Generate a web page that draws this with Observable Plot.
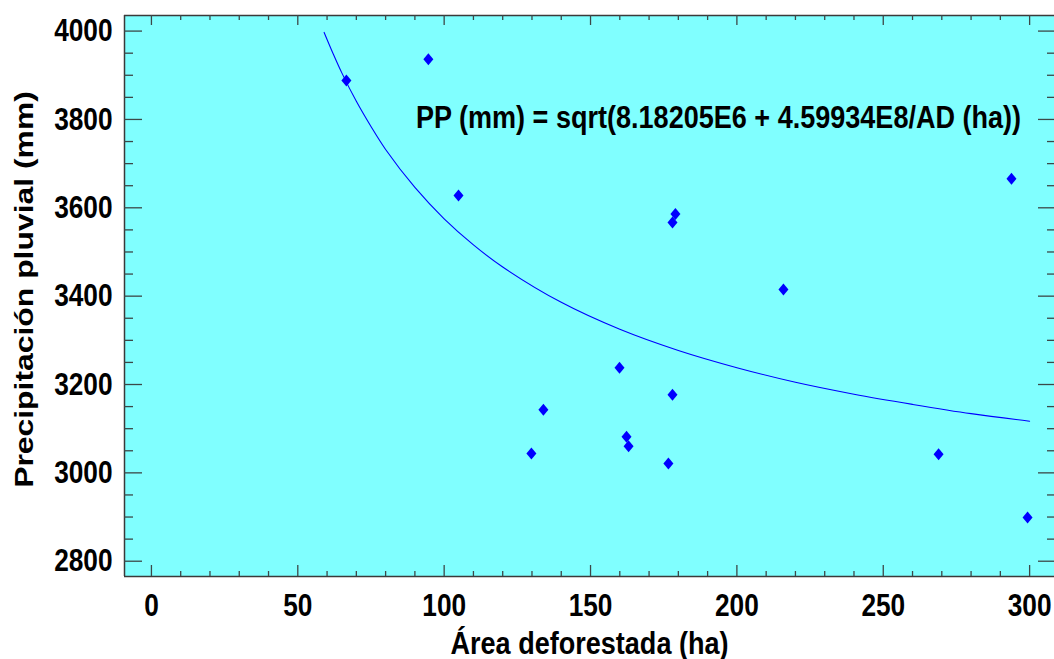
<!DOCTYPE html>
<html>
<head>
<meta charset="utf-8">
<script src="https://cdn.jsdelivr.net/npm/d3@7"></script>
<script src="https://cdn.jsdelivr.net/npm/@observablehq/plot@0.6"></script>
<style>
  html, body { margin: 0; padding: 0; background: #ffffff; }
  #chart svg { display: block; }
</style>
</head>
<body>
<div id="chart"></div>
<script>
// Observed data points: deforested area (ha) vs. rainfall (mm)
const areaHa   = [66.6, 94.6, 104.9, 179.0, 178.0, 215.9, 293.8, 159.9, 178.0, 133.9, 162.3, 163.0, 129.8, 176.6, 268.9, 299.3];
const precipMm = [3888, 3936, 3628, 3586, 3567, 3415, 3666, 3238, 3177, 3143, 3082, 3060, 3044, 3021, 3042, 2899];

// Fitted curve, values
const fitAreaHa   = [59, 62, 65, 70, 75, 80, 90, 100, 110, 120, 140, 160, 180, 200, 220, 240, 260, 280, 300];
const fitPrecipMm = [3997, 3950, 3906, 3841, 3784, 3732, 3646, 3575, 3516, 3466, 3386, 3325, 3277, 3238, 3205, 3178, 3155, 3134, 3117];

// Tick labels
const xTickLabels = [0, 50, 100, 150, 200, 250, 300];
const yTickLabels = [2800, 3000, 3200, 3400, 3600, 3800, 4000];

const equationText = "PP (mm) = sqrt(8.18205E6 + 4.59934E8/AD (ha))";
const xTitle = "Área deforestada (ha)";
const yTitle = "Precipitación pluvial (mm)";

const W = 1054, H = 659;
const mL = 124, mR = 0, mT = 15, mB = 83;
const frameW = W - mL - mR, frameH = H - mT - mB;
const xDomain = [-9.2, 308.5];
const yDomain = [2765.4, 4035.3];

const xMinor = d3.range(0, 301, 10).filter(v => v % 50 !== 0);
const yMinor = d3.range(2800, 4001, 50).filter(v => v % 200 !== 0);

const sans = "'Liberation Sans', Arial, Helvetica, sans-serif";
const tickColor = "#3c4848";
const frameColor = "#3a3a3a";

const diamondSymbol = {
  draw(ctx) {
    ctx.moveTo(0, -6);
    ctx.lineTo(5, 0);
    ctx.lineTo(0, 6);
    ctx.lineTo(-5, 0);
    ctx.closePath();
  }
};

const points = areaHa.map((x, i) => ({x, y: precipMm[i]}));
const fit = fitAreaHa.map((x, i) => ({x, y: fitPrecipMm[i]}));

const textStyle = {fontFamily: sans, fontSize: 32, fontWeight: "bold", fill: "#000"};

const plot = Plot.plot({
  width: W,
  height: H,
  marginLeft: mL,
  marginRight: mR,
  marginTop: mT,
  marginBottom: mB,
  style: {fontFamily: sans, fontSize: "32px", fontWeight: "bold", background: "#ffffff", color: "#000000"},
  x: {domain: xDomain},
  y: {domain: yDomain},
  marks: [
    Plot.frame({fill: "#80ffff", stroke: null}),
    // frame edges
    Plot.ruleX([xDomain[0]], {stroke: frameColor, strokeWidth: 1.5}),
    Plot.ruleY([yDomain[0]], {stroke: frameColor, strokeWidth: 1.5}),
    Plot.ruleY([yDomain[1]], {stroke: frameColor, strokeWidth: 1.5}),
    // bottom ticks (inward)
    Plot.tickX(xTickLabels, {x: d => d, insetTop: frameH - 11, stroke: tickColor, strokeWidth: 1.3}),
    Plot.tickX(xMinor, {x: d => d, insetTop: frameH - 5, stroke: tickColor, strokeWidth: 1.3}),
    // top ticks (inward)
    Plot.tickX(xTickLabels, {x: d => d, insetBottom: frameH - 10, stroke: tickColor, strokeWidth: 1.3}),
    Plot.tickX(xMinor, {x: d => d, insetBottom: frameH - 5, stroke: tickColor, strokeWidth: 1.3}),
    // left ticks (inward)
    Plot.tickY(yTickLabels, {y: d => d, insetRight: frameW - 18, stroke: tickColor, strokeWidth: 1.3}),
    Plot.tickY(yMinor, {y: d => d, insetRight: frameW - 9, stroke: tickColor, strokeWidth: 1.3}),
    // right ticks (inward)
    Plot.tickY(yTickLabels, {y: d => d, insetLeft: frameW - 16, stroke: tickColor, strokeWidth: 1.3}),
    Plot.tickY(yMinor, {y: d => d, insetLeft: frameW - 7, stroke: tickColor, strokeWidth: 1.3}),
    // axis labels
    Plot.axisX(xTickLabels, {anchor: "bottom", tickSize: 0, tickPadding: 17, label: null, tickFormat: "d", ...textStyle}),
    Plot.axisY(yTickLabels, {anchor: "left", tickSize: 0, tickPadding: 12, label: null, tickFormat: "d", ...textStyle}),
    // fitted curve
    Plot.line(fit, {x: "x", y: "y", curve: "catmull-rom", stroke: "#0000ff", strokeWidth: 1.1}),
    // observations
    Plot.dot(points, {x: "x", y: "y", symbol: diamondSymbol, fill: "#0000ff", stroke: "none", r: 5}),
    // equation annotation
    Plot.text([equationText], {frameAnchor: "top", dx: 129, dy: 101.8, lineAnchor: "middle", textAnchor: "middle", ...textStyle}),
    // axis titles
    Plot.text([xTitle], {frameAnchor: "bottom", dy: 66.8, lineAnchor: "middle", textAnchor: "middle", ...textStyle}),
    Plot.text([yTitle], {frameAnchor: "left", dx: -99.3, dy: -6.5, rotate: -90, lineAnchor: "middle", textAnchor: "middle",
      fontFamily: sans, fontSize: 25.5, fontWeight: "bold", fill: "#000"})
  ]
});

document.getElementById("chart").appendChild(plot);

// Reproduce the reference's typography: horizontal texts are condensed,
// the vertical title is elongated along its baseline.
d3.select(plot).selectAll("text").each(function() {
  const len = this.getComputedTextLength();
  if (!len) return;
  const t = this.textContent;
  const factor = t === yTitle ? 1.25 : (t === xTitle || t === equationText) ? 0.845 : 0.82;
  d3.select(this).attr("textLength", len * factor).attr("lengthAdjust", "spacingAndGlyphs");
});
</script>
</body>
</html>
